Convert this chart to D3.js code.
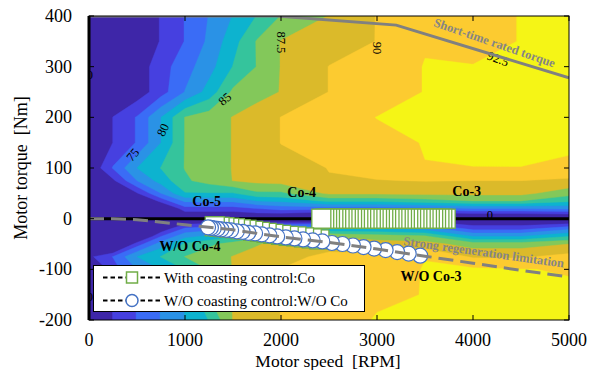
<!DOCTYPE html>
<html>
<head>
<meta charset="utf-8">
<script src="https://cdn.jsdelivr.net/npm/d3@7"></script>
<style>
  body { margin: 0; background: #fff; }
  text { font-family: "Liberation Serif", "Times New Roman", serif; }
</style>
</head>
<body>
<svg id="chart" width="598" height="370"></svg>
<script>
// efficiency map grid (speed columns x torque rows), values in %
const speeds = [0, 250, 500, 750, 1000, 1250, 1500, 1750, 2000, 2500, 3000, 3500, 4000, 4500, 5000];
const torques = [400, 350, 300, 250, 200, 150, 100, 75, 50, 35, 20, 8, 0, -8, -20, -35, -50, -75, -100, -150, -200];
const effGrid = [
  [65, 67, 70, 72.7, 75.1, 77.6, 80.1, 82.6, 85.1, 87.6, 90.1, 90.8, 91.5, 92.6, 93.0],
  [65, 67, 70, 72.7, 75.1, 78.0, 81.5, 85.2, 87.6, 89.0, 90.05, 92.3, 91.5, 92.6, 93.0],
  [65, 68, 71, 73.9, 76.5, 79.0, 82.6, 85.1, 87.6, 90.05, 91.0, 92.6, 92.6, 93.2, 93.5],
  [65, 68, 71, 73.9, 77.6, 81.0, 85.5, 86.5, 87.6, 90.05, 91.0, 92.6, 93.0, 93.3, 93.5],
  [65, 72.6, 75.2, 80.0, 85.1, 86.3, 87.6, 88.8, 90.05, 91.3, 92.55, 93.5, 94.0, 94.0, 93.8],
  [65, 72.6, 75.2, 80.0, 85.1, 86.3, 87.6, 88.8, 90.05, 91.0, 91.8, 92.6, 93.2, 93.3, 92.8],
  [70, 75.2, 80.0, 82.6, 85.1, 86.3, 87.6, 88.5, 89.2, 90.05, 91.0, 92.45, 92.45, 92.45, 92.2],
  [62, 72.0, 77.5, 81.0, 84.6, 86.0, 87.55, 88.2, 88.5, 89.9, 89.9, 90.1, 90.0, 90.0, 89.5],
  [55, 66, 72.3, 77.5, 82.3, 82.3, 82.3, 84.5, 84.5, 88.0, 88.0, 88.2, 88.2, 88.2, 86.0],
  [50, 60, 67, 73.5, 78, 78, 78, 80, 80.5, 83.1, 83.1, 84, 85, 85, 83],
  [45, 52, 60, 68, 74, 74, 74, 75, 76, 76, 76, 76.5, 77.5, 77.5, 78],
  [40, 40, 50, 60, 71, 71, 71, 71.5, 71.5, 70, 70, 70.5, 71.5, 71.5, 72],
  [0, 0, 0, 0, 0, 0, 0, 0, 0, 0, 0, 0, 0, 0, 0],
  [40, 40, 50, 60, 71.5, 72.0, 72.3, 72.6, 72.8, 73.5, 73.5, 73.2, 71.0, 71.0, 71.5],
  [45, 52, 60, 70.5, 75.5, 76.5, 77, 78.5, 80, 80, 80, 79, 74.2, 74.2, 77.0],
  [50, 60, 68, 75, 79.3, 80.5, 82, 84, 86, 87.5, 86.5, 85.5, 80, 80, 82.5],
  [55, 66, 73.7, 78.7, 82.9, 84.5, 86, 87.3, 88.3, 89.0, 88.5, 88.5, 86.3, 86.3, 87.5],
  [71.9, 75.1, 80.0, 82.6, 85.05, 86.3, 87.6, 88.4, 89.2, 90.6, 90.6, 92.45, 89.7, 89.7, 90.8],
  [68, 74, 77.5, 80.05, 82.6, 85.1, 87.6, 88.8, 90.05, 90.8, 91.5, 92.6, 92.9, 92.6, 92.3],
  [68, 72.6, 75.1, 77.6, 80.05, 85.1, 87.6, 88.8, 90.05, 91.0, 91.8, 92.6, 93.2, 93.3, 93.0],
  [68, 72.6, 75.1, 77.6, 80.05, 82.6, 87.6, 88.8, 90.05, 90.5, 92.8, 93.2, 93.5, 93.5, 93.3]
];
const levels = [72.5, 75, 77.5, 80, 82.5, 85, 87.5, 90, 92.5];
const bandColors = ["#3e26a8", "#4640e0", "#3a6cf6", "#2a92e6", "#0db3cf", "#35c49c", "#83c85a", "#dbba2a", "#fccb30", "#f5f516"];

// short-time rated torque and regeneration limit
const ratedSpeed = [0, 1950, 3200, 5000];
const ratedTorque = [400, 400, 382, 278];
const regenSpeed = [0, 250, 500, 750, 1000, 1250, 1500, 2000, 2500, 3000, 3500, 4000, 4500, 5000];
const regenTorque = [0, 0, -2, -7, -12, -17, -22, -36, -47, -60, -74, -88, -102, -115];

// with coasting control (squares): coasting at zero torque, then regeneration
const coSpeed = [3715, 3680, 3650, 3615, 3585, 3550, 3520, 3485, 3455, 3420, 3390, 3355, 3325, 3290, 3260, 3225, 3195, 3160, 3130, 3095, 3065, 3030, 3000, 2965, 2935, 2900, 2870, 2835, 2805, 2770, 2740, 2705, 2675, 2640, 2610, 2575, 2545, 2510, 2480, 2450, 2420,
  2400, 2320, 2240, 2160, 2080, 2000, 1920, 1850, 1780, 1710, 1640, 1580, 1520, 1460, 1410, 1360, 1310];
const coTorque = [0, 0, 0, 0, 0, 0, 0, 0, 0, 0, 0, 0, 0, 0, 0, 0, 0, 0, 0, 0, 0, 0, 0, 0, 0, 0, 0, 0, 0, 0, 0, 0, 0, 0, 0, 0, 0, 0, 0, 0, 0,
  -41, -39, -37, -35, -34, -32, -30, -28, -26, -24, -22, -21, -19, -18, -17, -16, -15];

// without coasting control (circles)
const woSpeed = [3450, 3330, 3210, 3090, 2970, 2860, 2750, 2640, 2530, 2430, 2330, 2230, 2140, 2050, 1960, 1880, 1800, 1730, 1660, 1600, 1540, 1480, 1430, 1380, 1340, 1300, 1270, 1240];
const woTorque = [-73, -69, -66, -62, -59, -56, -53, -50, -48, -45, -43, -41, -39, -37, -35, -33, -31, -29, -28, -26, -25, -23, -22, -21, -20, -19, -18, -17];

const xTicks = [0, 1000, 2000, 3000, 4000, 5000];
const yTicks = [-200, -100, 0, 100, 200, 300, 400];

// contour labels and operating-point notes (data coordinates)
const contourNotes = [
  { text: "75", s: 458, t: 126, rot: -50 },
  { text: "80", s: 771, t: 175, rot: -65 },
  { text: "85", s: 1417, t: 236, rot: -40 },
  { text: "87.5", s: 2000, t: 348, rot: 90 },
  { text: "90", s: 3000, t: 337, rot: 90 },
  { text: "92.5", s: 4260, t: 315, rot: 20 },
  { text: "0", s: 4177, t: 8, rot: 0 },
  { text: "0", s: 10, t: 283, rot: 0 },
  { text: "0", s: 10, t: -155, rot: 0 }
];
const pointNotes = [
  { text: "Co-5", s: 1226, t: 34 },
  { text: "Co-4", s: 2216, t: 51 },
  { text: "Co-3", s: 3934, t: 54 },
  { text: "W/O Co-4", s: 1052, t: -55 },
  { text: "W/O Co-3", s: 3563, t: -114 }
];

const svg = d3.select("#chart");
const x = d3.scaleLinear().domain([0, 5000]).range([89, 569]);
const y = d3.scaleLinear().domain([-200, 400]).range([320, 16]);

svg.append("defs").append("clipPath").attr("id", "plotClip")
  .append("rect").attr("x", 89).attr("y", 16).attr("width", 480).attr("height", 304);

const plot = svg.append("g").attr("clip-path", "url(#plotClip)");
plot.append("rect")
  .attr("x", 89).attr("y", 16).attr("width", 480).attr("height", 304)
  .attr("fill", bandColors[0]);

// filled contours
const nx = speeds.length, ny = torques.length;
const sAt = d3.scaleLinear().domain(d3.range(nx)).range(speeds);
const tAt = d3.scaleLinear().domain(d3.range(ny)).range(torques);
const gridProj = d3.geoTransform({
  point(cx, cy) { this.stream.point(x(sAt(cx - 0.5)), y(tAt(cy - 0.5))); }
});
const bands = d3.contours().size([nx, ny]).thresholds(levels)(effGrid.flat());
plot.append("g").selectAll("path").data(bands).join("path")
  .attr("d", d3.geoPath(gridProj))
  .attr("fill", d => bandColors[levels.indexOf(d.value) + 1])
  .attr("stroke", d => bandColors[levels.indexOf(d.value) + 1])
  .attr("stroke-width", 0.4);

// contour labels
plot.append("g").selectAll("text").data(contourNotes).join("text")
  .attr("transform", d => `translate(${x(d.s)},${y(d.t)}) rotate(${d.rot})`)
  .attr("text-anchor", "middle").attr("dominant-baseline", "central")
  .attr("font-size", 12.5).attr("fill", "#000")
  .text(d => d.text);

// zero torque line
plot.append("line")
  .attr("x1", x(0)).attr("x2", x(5000)).attr("y1", y(0)).attr("y2", y(0))
  .attr("stroke", "#000").attr("stroke-width", 3);

// with coasting control markers
const coPts = coSpeed.map((s, i) => [s, coTorque[i]]);
plot.append("g").selectAll("rect").data(coPts).join("rect")
  .attr("x", d => x(d[0]) - 9.5).attr("y", d => y(d[1]) - 9.5)
  .attr("width", 19).attr("height", 19)
  .attr("fill", "#fff").attr("stroke", "#70ad47").attr("stroke-width", 1.3);

// without coasting control markers
const woPts = woSpeed.map((s, i) => [s, woTorque[i]]);
plot.append("g").selectAll("circle").data(woPts).join("circle")
  .attr("cx", d => x(d[0])).attr("cy", d => y(d[1])).attr("r", 7.5)
  .attr("fill", "#fff").attr("stroke", "#4472c4").attr("stroke-width", 1.2);

// limit lines
const lineGen = d3.line().x(d => x(d[0])).y(d => y(d[1]));
plot.append("path")
  .attr("d", lineGen(regenSpeed.map((s, i) => [s, regenTorque[i]])))
  .attr("fill", "none").attr("stroke", "#808080").attr("stroke-width", 3)
  .attr("stroke-dasharray", "15,7");
plot.append("path")
  .attr("d", lineGen(ratedSpeed.map((s, i) => [s, ratedTorque[i]])))
  .attr("fill", "none").attr("stroke", "#808080").attr("stroke-width", 3);

plot.append("text")
  .attr("transform", `translate(433,26) rotate(19)`)
  .attr("font-size", 12.5).attr("font-weight", "bold").attr("fill", "#858585")
  .text("Short-time rated torque");
plot.append("text")
  .attr("transform", `translate(403,245) rotate(8)`)
  .attr("font-size", 12.5).attr("font-weight", "bold").attr("fill", "#858585")
  .text("Strong regeneration limitation");

plot.append("g").selectAll("text").data(pointNotes).join("text")
  .attr("x", d => x(d.s)).attr("y", d => y(d.t))
  .attr("text-anchor", "middle").attr("dominant-baseline", "central")
  .attr("font-size", 14).attr("font-weight", "bold").attr("fill", "#000")
  .text(d => d.text);

// legend
const legend = svg.append("g");
legend.append("rect")
  .attr("x", 93.5).attr("y", 265.5).attr("width", 271).attr("height", 46)
  .attr("fill", "#fff").attr("stroke", "#000").attr("stroke-width", 1);
const legendRows = [
  { label: "With coasting control:Co", y: 277.5, kind: "square" },
  { label: "W/O coasting control:W/O Co", y: 300.5, kind: "circle" }
];
legendRows.forEach(r => {
  legend.append("line")
    .attr("x1", 103).attr("x2", 160).attr("y1", r.y).attr("y2", r.y)
    .attr("stroke", "#000").attr("stroke-width", 2).attr("stroke-dasharray", "4.5,3");
  if (r.kind === "square") {
    legend.append("rect").attr("x", 126.5).attr("y", r.y - 5.5).attr("width", 11).attr("height", 11)
      .attr("fill", "#fff").attr("stroke", "#70ad47").attr("stroke-width", 1.5);
  } else {
    legend.append("circle").attr("cx", 132).attr("cy", r.y).attr("r", 6)
      .attr("fill", "#fff").attr("stroke", "#4472c4").attr("stroke-width", 1.5);
  }
  legend.append("text").attr("x", 164).attr("y", r.y + 5)
    .attr("font-size", 15).attr("fill", "#000").text(r.label);
});

// axes frame and ticks
const axes = svg.append("g");
axes.append("rect").attr("x", 89).attr("y", 16).attr("width", 480).attr("height", 304)
  .attr("fill", "none").attr("stroke", "#000").attr("stroke-width", 1);
axes.append("line").attr("x1", 89).attr("x2", 89).attr("y1", 16).attr("y2", 320)
  .attr("stroke", "#000").attr("stroke-width", 3);
xTicks.forEach(v => {
  axes.append("line").attr("x1", x(v)).attr("x2", x(v)).attr("y1", 320).attr("y2", 315).attr("stroke", "#000");
  axes.append("line").attr("x1", x(v)).attr("x2", x(v)).attr("y1", 16).attr("y2", 21).attr("stroke", "#000");
  axes.append("text").attr("x", x(v)).attr("y", 346).attr("text-anchor", "middle")
    .attr("font-size", 18).text(v);
});
yTicks.forEach(v => {
  axes.append("line").attr("x1", 89).attr("x2", 94).attr("y1", y(v)).attr("y2", y(v)).attr("stroke", "#000");
  axes.append("line").attr("x1", 569).attr("x2", 564).attr("y1", y(v)).attr("y2", y(v)).attr("stroke", "#000");
  axes.append("text").attr("x", 72).attr("y", y(v)).attr("text-anchor", "end")
    .attr("dominant-baseline", "central").attr("font-size", 18).text(v);
});
axes.append("text").attr("x", 328).attr("y", 367).attr("text-anchor", "middle")
  .attr("font-size", 17.5).style("white-space", "pre").text("Motor speed  [RPM]");
axes.append("text").attr("transform", "translate(27,168) rotate(-90)")
  .attr("text-anchor", "middle").attr("font-size", 18).style("white-space", "pre")
  .text("Motor torque  [Nm]");
</script>
</body>
</html>
